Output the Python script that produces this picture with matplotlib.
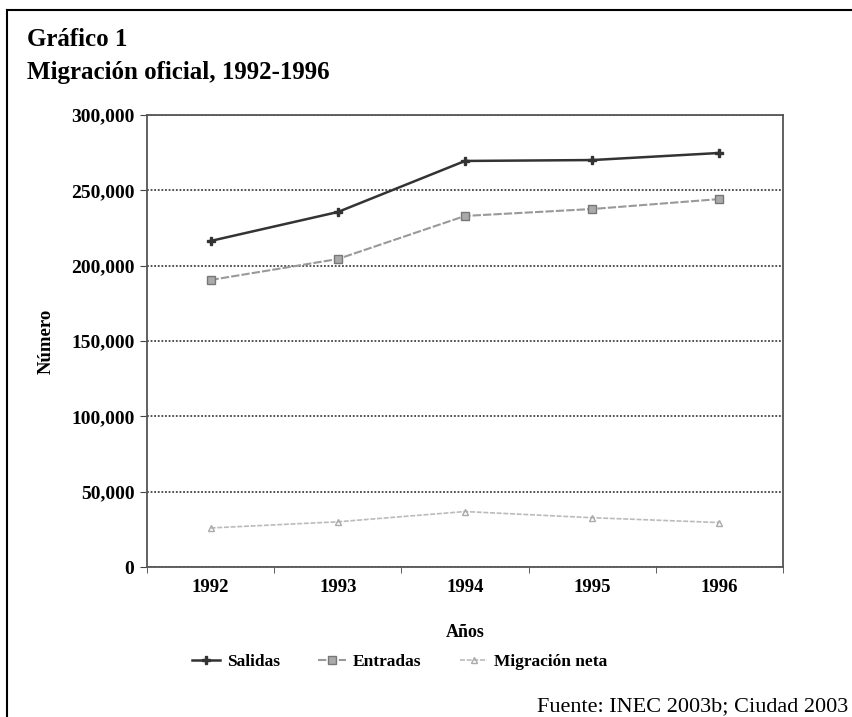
import matplotlib.pyplot as plt
from matplotlib.lines import Line2D
from matplotlib.ticker import FuncFormatter

# datos
years = ["1992", "1993", "1994", "1995", "1996"]
salidas = [216400, 235600, 269500, 270100, 274800]
entradas = [190500, 204400, 233000, 237600, 244200]
migracion_neta = [25900, 30000, 36800, 32700, 29500]

plt.rcParams['font.family'] = ['Liberation Serif', 'DejaVu Serif']

fig = plt.figure(figsize=(8.53, 7.17), dpi=100)
ax = fig.add_axes([147 / 853, 1 - 567 / 717, 636 / 853, 452 / 717])

x = range(len(years))
ax.plot(x, salidas, color='#333333', lw=1.8, marker='P', ms=6, label='Salidas')
ax.plot(x, entradas, color='#999999', lw=1.5, ls=(0, (4, 1)), marker='s', ms=6,
        mfc='#aaaaaa', mec='#777777', label='Entradas')
ax.plot(x, migracion_neta, color='#bbbbbb', lw=1.2, ls=(0, (3, 1)), marker='^', ms=5,
        mfc='none', mec='#aaaaaa', label='Migración neta')

ax.set_xlim(-0.5, 4.5)
ax.set_ylim(0, 300000)
ax.set_yticks(range(0, 300001, 50000))
ax.yaxis.set_major_formatter(FuncFormatter(lambda v, p: f"{int(v):,}"))
ax.set_xticks(list(x))
ax.set_xticklabels(years)
ax.set_xticks([i - 0.5 for i in range(6)], minor=True)
ax.tick_params(axis='x', which='major', length=0, pad=9, labelsize=13.5)
ax.tick_params(axis='x', which='minor', length=4, direction='out', color='#444444')
ax.tick_params(axis='y', length=5, color='#444444', labelsize=14, pad=4)
for lab in ax.get_xticklabels() + ax.get_yticklabels():
    lab.set_fontweight('bold')

ax.grid(axis='y', color='#444444', ls=(0, (1, 1)), lw=1.3)
for s in ax.spines.values():
    s.set_color('#555555')
    s.set_linestyle((0, (1, 1)))
    s.set_linewidth(1.3)

ax.set_ylabel('Número', fontsize=13.5, fontweight='bold', labelpad=12)
ax.set_xlabel('Años', fontsize=13, fontweight='bold', labelpad=20)

fig.legend(loc='center', bbox_to_anchor=(400 / 853, 1 - 662 / 717), ncol=3, frameon=False,
           prop={'weight': 'bold', 'size': 12.5}, handlelength=1.6,
           columnspacing=2.2, handletextpad=0.4)

fig.text(27 / 853, 1 - 40 / 717, 'Gráfico 1', fontsize=18, fontweight='bold', va='center')
fig.text(27 / 853, 1 - 73 / 717, 'Migración oficial, 1992-1996', fontsize=18,
         fontweight='bold', va='center')
fig.text(848 / 853, 1 - 707 / 717, 'Fuente: INEC 2003b; Ciudad 2003', fontsize=16,
         ha='right', va='center')

# marco exterior
fig.add_artist(Line2D([7 / 853, 852 / 853], [1 - 10 / 717, 1 - 10 / 717], color='black', lw=1.5))
fig.add_artist(Line2D([7 / 853, 7 / 853], [1 - 10 / 717, 0], color='black', lw=1.5))

fig.savefig('out.png', dpi=100)
